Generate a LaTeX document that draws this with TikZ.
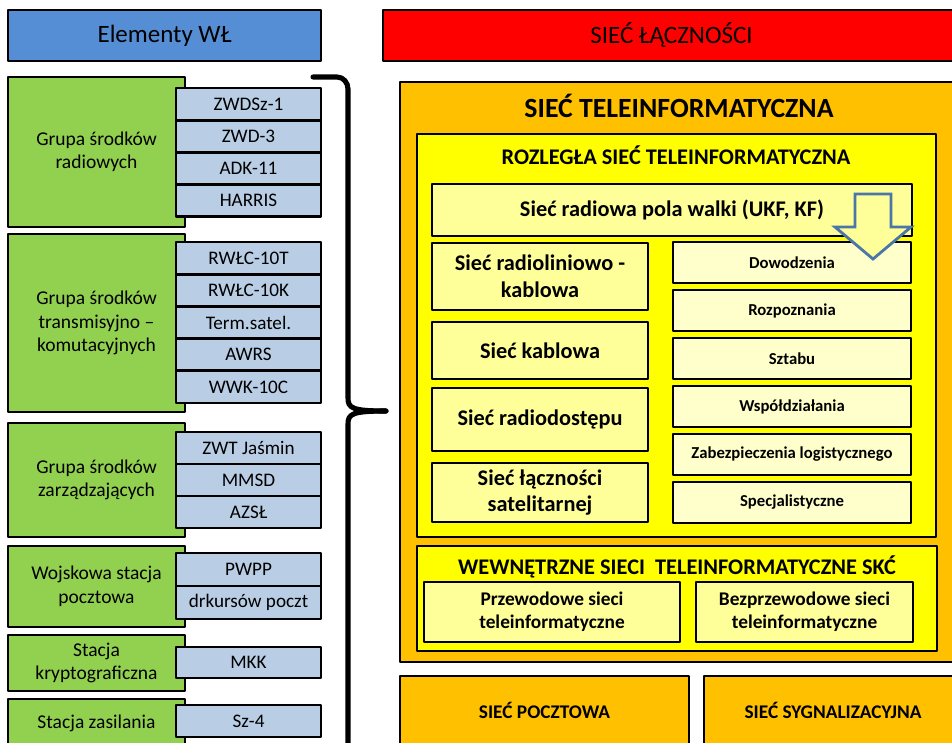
\documentclass[tikz,border=0pt]{standalone}
\usepackage{fontspec}
\setmainfont{Carlito}
\definecolor{hdrblue}{HTML}{558ED5}
\definecolor{hdrred}{HTML}{FF0000}
\definecolor{grpgreen}{HTML}{92D050}
\definecolor{itemblue}{HTML}{B9CDE5}
\definecolor{netorange}{HTML}{FFC000}
\definecolor{netyellow}{HTML}{FFFF00}
\definecolor{paleyellow}{HTML}{FFFF99}
\definecolor{creamyellow}{HTML}{FFFFCC}
\definecolor{arrowblue}{HTML}{4A76A8}
\tikzset{
  rect/.style args={#1/#2/#3/#4}{at={({((#1)+(#3))/2},{((#2)+(#4))/2})},
    minimum width={((#3)-(#1))*0.01cm},minimum height={((#4)-(#2))*0.01cm}},
  box/.style={draw=black,line width=0.8pt,inner sep=0pt,align=center},
  hdr/.style={box,font=\fontsize{7.1}{8.5}\selectfont},
  grp/.style={box,fill=grpgreen,font=\fontsize{5.55}{6.7}\selectfont},
  item/.style={box,fill=itemblue,font=\fontsize{5.45}{6.5}\selectfont},
  net/.style={box,line width=0.7pt,font=\bfseries\fontsize{6.35}{7.6}\selectfont},
  kind/.style={box,line width=0.7pt,fill=creamyellow,font=\bfseries\fontsize{4.75}{5.7}\selectfont},
  wew/.style={box,line width=0.7pt,fill=paleyellow,font=\bfseries\fontsize{5.5}{6.6}\selectfont},
  ttl/.style={inner sep=0pt,font=\bfseries\fontsize{6.35}{7.6}\selectfont}
}
\begin{document}
\begin{tikzpicture}[x=0.01cm,y=-0.01cm,line join=round]
  \useasboundingbox[fill=white](0,0)rectangle(952,742);
  % naglowki
  \node[hdr,fill=hdrblue,rect=8/10/321/61](elem){Elementy WŁ};
  \node[hdr,fill=hdrred,rect=383/10/960/61](siec){SIEĆ ŁĄCZNOŚCI};
  % elementy - grupy
  \node[grp,rect=8/77/185/227](grad){Grupa środków\\radiowych};
  \node[grp,rect=8/234/185/412](gtk){Grupa środków\\transmisyjno –\\komutacyjnych};
  \node[grp,rect=8/423/185/537](gzar){Grupa środków\\zarządzających};
  \node[grp,rect=8/546/185/627](gpoczt){Wojskowa stacja\\pocztowa};
  \node[grp,rect=8/635/185/691](gkrypt){Stacja\\kryptograficzna};
  \node[grp,rect=8/699/185/748](gzas){Stacja zasilania};
  \foreach \t[count=\i from 0] in {ZWDSz-1,ZWD-3,ADK-11,HARRIS}
    \node[item,rect=176/{88+32.2*\i}/321/{120.2+32.2*\i}](rad\i){\t};
  \foreach \t[count=\i from 0] in {RWŁC-10T,RWŁC-10K,Term.satel.,AWRS,WWK-10C}
    \node[item,rect=176/{242+32.2*\i}/321/{274.2+32.2*\i}](tk\i){\t};
  \foreach \t[count=\i from 0] in {ZWT Jaśmin,MMSD,AZSŁ}
    \node[item,rect=176/{432+32*\i}/321/{464+32*\i}](zar\i){\t};
  \foreach \t[count=\i from 0] in {PWPP,drkursów poczt}
    \node[item,rect=176/{553+33*\i}/321/{586+33*\i}](poczt\i){\t};
  \node[item,rect=176/647/321/678](krypt0){MKK};
  \node[item,rect=176/705/321/737](zas0){Sz-4};
  % klamra
  \draw[line width=1.45pt,line cap=round](313,77)--(337,77)to[out=0,in=90](348,89)--(348,398)
    ..controls(348,408)and(352,411)..(386,411);
  \draw[line width=1.45pt,line cap=round](386,411)..controls(352,411)and(348,414)..(348,424)--(348,760);
  % siec teleinformatyczna
  \node[box,line width=0.7pt,fill=netorange,rect=400/82/962/662](tele){};
  \node[ttl,font=\bfseries\fontsize{7.9}{9}\selectfont]at(679,106)(teleT){SIEĆ TELEINFORMATYCZNA};
  \node[box,line width=0.7pt,fill=netyellow,rect=417/134/936/537](rozl){};
  \node[ttl]at(676,155)(rozlT){ROZLEGŁA SIEĆ TELEINFORMATYCZNA};
  \node[net,fill=paleyellow,rect=432/184/912/236](pole){Sieć radiowa pola walki (UKF, KF)};
  \node[net,fill=paleyellow,rect=432/243/648/310](rlk){Sieć radioliniowo -\\kablowa};
  \node[net,fill=paleyellow,rect=432/322/648/379](kabl){Sieć kablowa};
  \node[net,fill=paleyellow,rect=432/388/648/451](rdost){Sieć radiodostępu};
  \node[net,fill=paleyellow,rect=432/463/648/522](sat){Sieć łączności\\satelitarnej};
  \foreach \t[count=\i from 0] in {Dowodzenia,Rozpoznania,Sztabu,Współdziałania,Zabezpieczenia logistycznego,Specjalistyczne}
    \node[kind,rect=673/{242+48*\i}/911/{283+48*\i}](kind\i){\t};
  % strzalka
  \draw[draw=arrowblue,fill=paleyellow,line width=0.8pt,line join=miter]
    (855,194)--(891,194)--(891,227)--(911,227)--(873,259)--(835,227)--(855,227)--cycle;
  \node[box,line width=0.7pt,fill=netyellow,rect=417/546/937/651](wewn){};
  \node[ttl]at(677,567)(wewnT){WEWNĘTRZNE SIECI\ \ TELEINFORMATYCZNE SKĆ};
  \node[wew,rect=424/582/680/642](przew){Przewodowe sieci\\teleinformatyczne};
  \node[wew,rect=696/582/913/642](bezprz){Bezprzewodowe sieci\\teleinformatyczne};
  % pozostale sieci
  \node[wew,fill=netorange,rect=400/676/689/745](pocz){SIEĆ POCZTOWA};
  \node[wew,fill=netorange,rect=704/676/962/745](sygn){SIEĆ SYGNALIZACYJNA};
\end{tikzpicture}
\end{document}
